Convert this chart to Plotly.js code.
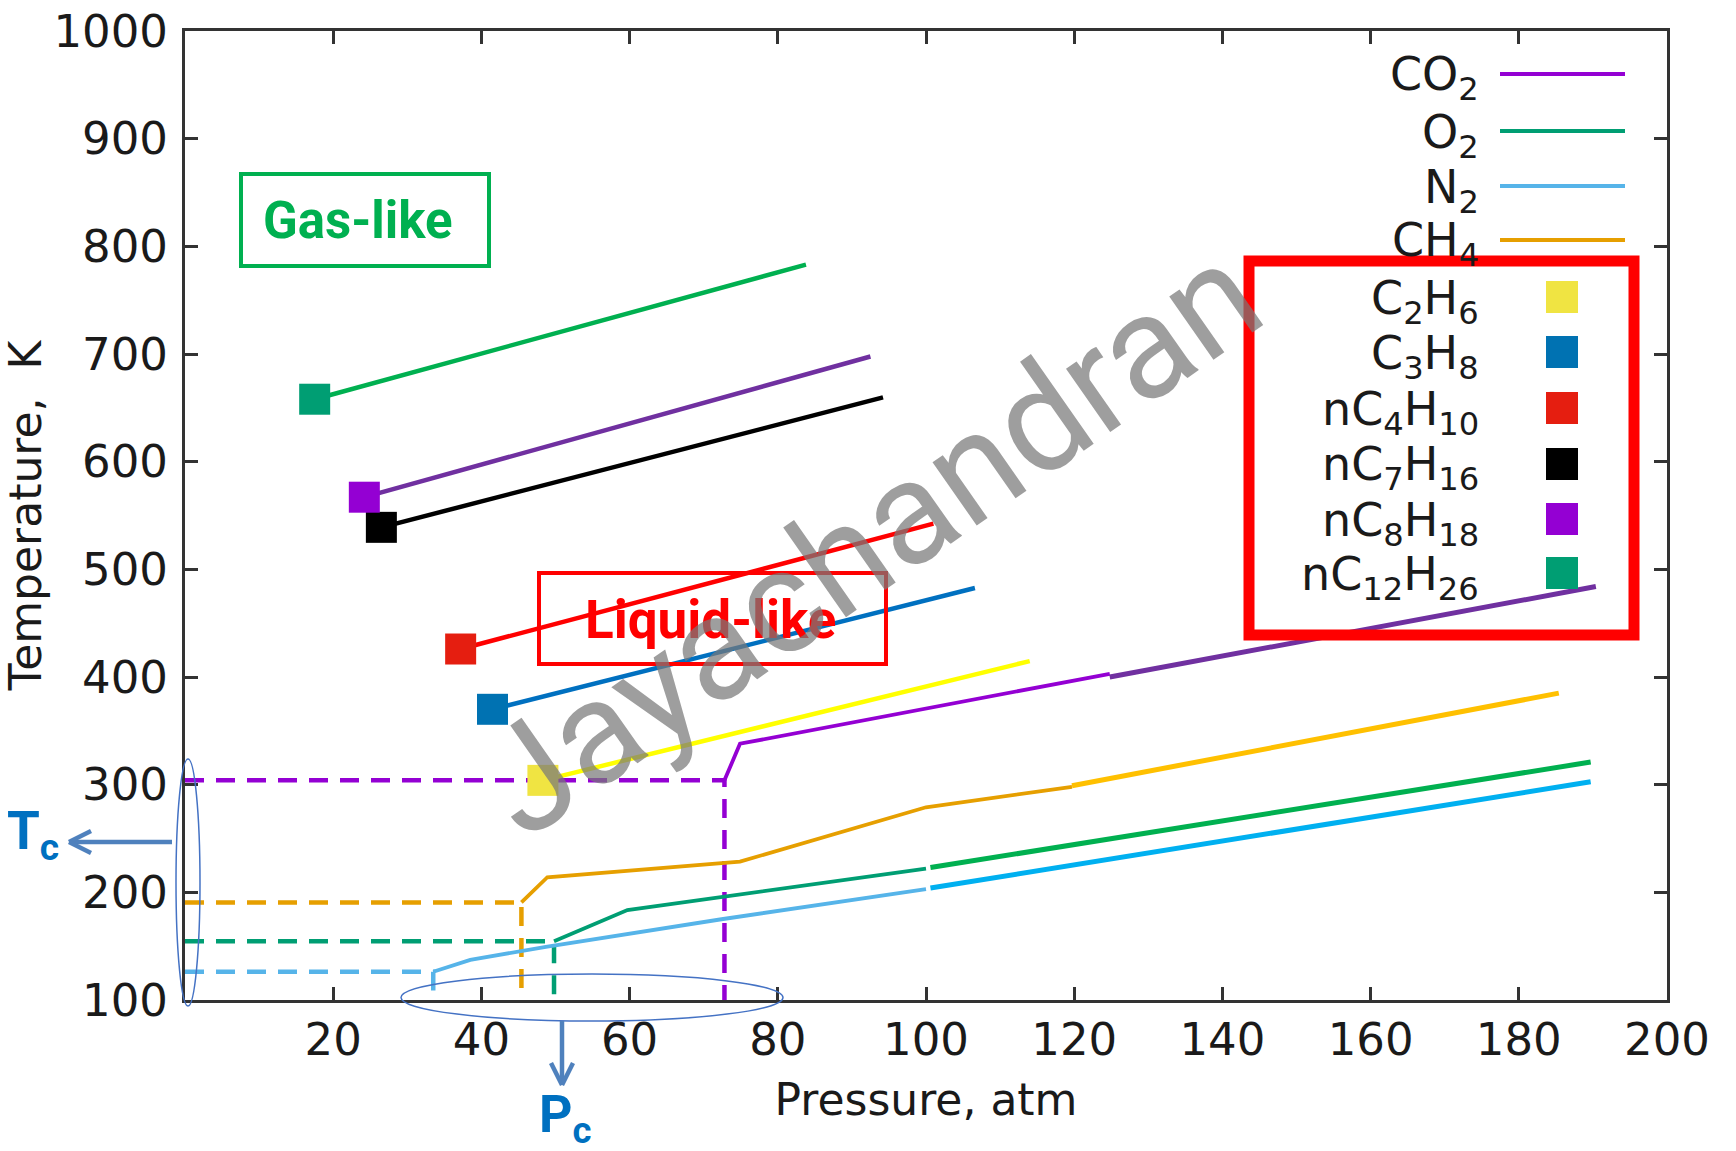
<!DOCTYPE html>
<html>
<head>
<meta charset="utf-8">
<script src="https://cdn.plot.ly/plotly-3.0.1.min.js"></script>
<style>
  html, body { margin: 0; padding: 0; background: #ffffff; }
  #chart { width: 1736px; height: 1151px; }
</style>
</head>
<body>
<div id="chart"></div>
<script>
// ---------------- data ----------------
const xTicks = [20, 40, 60, 80, 100, 120, 140, 160, 180, 200];
const yTicks = [100, 200, 300, 400, 500, 600, 700, 800, 900, 1000];

// critical-point guide lines (dashed): Tc horizontal, then Pc vertical
const co2DashP = [0, 72.8, 72.8];  const co2DashT = [304, 304, 100];
const ch4DashP = [0, 45.4, 45.4];  const ch4DashT = [190.6, 190.6, 100];
const o2DashP  = [0, 49.8, 49.8];  const o2DashT  = [154.6, 154.6, 100];
const n2DashP  = [0, 33.5, 33.5];  const n2DashT  = [126.2, 126.2, 100];

// supercritical curves (legend series)
const co2P = [72.8, 74.9, 124.8];            const co2T = [304, 338, 403];
const o2P  = [49.8, 59.7, 100];              const o2T  = [154.6, 183.5, 222];
const n2P  = [33.5, 38.5, 48.7, 72.4, 100];  const n2T  = [126.2, 137.3, 149.4, 175, 203];
const ch4P = [45.4, 48.9, 74.9, 100, 119.7]; const ch4T = [190.6, 214, 228.5, 279, 298];

// hand-drawn extensions of the gas curves
const co2ExtP = [124.8, 190.4]; const co2ExtT = [400, 484];
const ch4ExtP = [119.7, 185.4]; const ch4ExtT = [299, 385];
const o2ExtP  = [100.6, 189.7]; const o2ExtT  = [223, 321];
const n2ExtP  = [100.6, 189.7]; const n2ExtT  = [204, 302.7];

// hydrocarbon critical points (squares)
const hcNames = ['C<sub>2</sub>H<sub>6</sub>', 'C<sub>3</sub>H<sub>8</sub>', 'nC<sub>4</sub>H<sub>10</sub>',
                 'nC<sub>7</sub>H<sub>16</sub>', 'nC<sub>8</sub>H<sub>18</sub>', 'nC<sub>12</sub>H<sub>26</sub>'];
const hcPc = [48.3, 41.5, 37.2, 26.5, 24.2, 17.5];
const hcTc = [304, 370, 426, 539, 567, 658];
// hand-drawn lines from each critical point
const hcEndP = [114, 106.6, 101, 94.2, 92.5, 83.8];
const hcEndT = [414.8, 482.7, 542.4, 659.7, 697.7, 783];

// ---------------- styles ----------------
const hcMarkerColors = ['#f0e442', '#0072b2', '#e51e10', '#000000', '#9400d3', '#009e73'];
const hcLineColors   = ['#ffff00', '#0070c0', '#ff0000', '#000000', '#7030a0', '#00b050'];
const gasNames  = ['CO<sub>2</sub>', 'O<sub>2</sub>', 'N<sub>2</sub>', 'CH<sub>4</sub>'];
const gasColors = ['#9400d3', '#009e73', '#56b4e9', '#e69f00'];

const traces = [];
function line(x, y, color, width, dash) {
  traces.push({type: 'scatter', mode: 'lines', x: x, y: y, showlegend: false, hoverinfo: 'skip',
               line: {color: color, width: width, dash: dash || 'solid'}});
}
const DASH = '19px,12px';
line(co2DashP, co2DashT, gasColors[0], 4.5, DASH);
line(ch4DashP, ch4DashT, gasColors[3], 4.5, DASH);
line(o2DashP,  o2DashT,  gasColors[1], 4.5, DASH);
line(n2DashP,  n2DashT,  gasColors[2], 4.5, DASH);

line(co2P, co2T, gasColors[0], 3.8);
line(o2P,  o2T,  gasColors[1], 3.8);
line(n2P,  n2T,  gasColors[2], 3.8);
line(ch4P, ch4T, gasColors[3], 3.8);

line(co2ExtP, co2ExtT, '#7030a0', 5);
line(ch4ExtP, ch4ExtT, '#ffc000', 5);
line(o2ExtP,  o2ExtT,  '#00b050', 5);
line(n2ExtP,  n2ExtT,  '#00b0f0', 5);

for (let i = 0; i < hcPc.length; i++) {
  line([hcPc[i], hcEndP[i]], [hcTc[i], hcEndT[i]], hcLineColors[i], 4.5);
}
for (let i = 0; i < hcPc.length; i++) {
  traces.push({type: 'scatter', mode: 'markers', x: [hcPc[i]], y: [hcTc[i]], showlegend: false,
               marker: {symbol: 'square', size: 31, color: hcMarkerColors[i], line: {width: 0}}});
}

// ---------------- geometry helpers (pixels -> paper) ----------------
const L = 185, R = 1667, T = 31, B = 1000;
const px = X => (X - L) / (R - L);
const py = Y => (B - Y) / (B - T);

const shapes = [];
const annotations = [];
const LEGFONT = {family: 'DejaVu Sans', size: 46, color: '#1a1a1a'};

// manual legend (text right-aligned, key to the right)
const gasRows = [74, 131, 186, 240];
for (let i = 0; i < 4; i++) {
  shapes.push({type: 'line', xref: 'paper', yref: 'paper', x0: px(1500), x1: px(1625),
               y0: py(gasRows[i]), y1: py(gasRows[i]), line: {color: gasColors[i], width: 4}});
  annotations.push({xref: 'paper', yref: 'paper', x: px(1481), y: py(gasRows[i] + 4), text: gasNames[i],
                    showarrow: false, xanchor: 'right', yanchor: 'middle', font: LEGFONT});
}
const hcRows = [297, 352, 408, 464, 519, 573];
for (let i = 0; i < 6; i++) {
  shapes.push({type: 'rect', xref: 'paper', yref: 'paper', x0: px(1546), x1: px(1578),
               y0: py(hcRows[i] - 16), y1: py(hcRows[i] + 16), line: {width: 0}, fillcolor: hcMarkerColors[i]});
  annotations.push({xref: 'paper', yref: 'paper', x: px(1481), y: py(hcRows[i] + 4), text: hcNames[i],
                    showarrow: false, xanchor: 'right', yanchor: 'middle', font: LEGFONT});
}
// red highlight box around hydrocarbon legend entries
shapes.push({type: 'rect', xref: 'paper', yref: 'paper', x0: px(1249), x1: px(1634), y0: py(635), y1: py(261),
             line: {color: '#ff0000', width: 11}, fillcolor: 'rgba(0,0,0,0)', layer: 'above'});

// Gas-like / Liquid-like boxes
shapes.push({type: 'rect', xref: 'paper', yref: 'paper', x0: px(241), x1: px(489), y0: py(266), y1: py(174),
             line: {color: '#00b050', width: 4}});
annotations.push({xref: 'paper', yref: 'paper', x: px(358), y: py(220), text: '<b>Gas-like</b>', showarrow: false,
                  xanchor: 'center', yanchor: 'middle', font: {family: 'Roboto', size: 51, color: '#00b050'}});
shapes.push({type: 'rect', xref: 'paper', yref: 'paper', x0: px(539), x1: px(886), y0: py(664), y1: py(573),
             line: {color: '#ff0000', width: 4}});
annotations.push({xref: 'paper', yref: 'paper', x: px(711), y: py(620), text: '<b>Liquid-like</b>', showarrow: false,
                  xanchor: 'center', yanchor: 'middle', font: {family: 'Roboto', size: 53, color: '#ff0000'}});

// Tc / Pc ellipses
shapes.push({type: 'circle', xref: 'paper', yref: 'paper', x0: px(176), x1: px(200), y0: py(1006), y1: py(759),
             line: {color: '#4472c4', width: 1.5}});
shapes.push({type: 'circle', xref: 'paper', yref: 'paper', x0: px(401), x1: px(783), y0: py(1021), y1: py(974),
             line: {color: '#4472c4', width: 1.5}});
// arrows (shaft + open chevron head)
const ARW = {color: '#4f81bd', width: 4.5};
function seg(x0, y0, x1, y1) {
  shapes.push({type: 'line', xref: 'paper', yref: 'paper', x0: px(x0), y0: py(y0), x1: px(x1), y1: py(y1), line: ARW});
}
seg(172, 842, 70, 842); seg(69, 842, 91, 831); seg(69, 842, 91, 853);
seg(562, 1021, 562, 1083); seg(562, 1085, 551, 1063); seg(562, 1085, 573, 1063);

annotations.push({xref: 'paper', yref: 'paper', x: px(33), y: py(834), text: '<b>T<sub>c</sub></b>', showarrow: false,
                  xanchor: 'center', yanchor: 'middle', font: {family: 'Roboto', size: 53, color: '#0070c0'}});
annotations.push({xref: 'paper', yref: 'paper', x: px(565), y: py(1118), text: '<b>P<sub>c</sub></b>', showarrow: false,
                  xanchor: 'center', yanchor: 'middle', font: {family: 'Roboto', size: 52, color: '#0070c0'}});

// watermark
annotations.push({xref: 'paper', yref: 'paper', x: px(869), y: py(540), text: 'Jayachandran', showarrow: false,
                  textangle: -35, xanchor: 'center', yanchor: 'middle',
                  font: {family: 'Roboto', size: 146, color: 'rgba(120,120,120,0.72)'}});

const axisCommon = {
  showgrid: false, zeroline: false, showline: true, linecolor: '#333333', linewidth: 3,
  mirror: 'allticks', ticks: 'inside', ticklen: 13, tickwidth: 3, tickcolor: '#333333',
  tickfont: {family: 'DejaVu Sans', size: 45, color: '#1a1a1a'}
};

const layout = {
  width: 1736, height: 1151,
  margin: {l: L, r: 1736 - R, t: T, b: 1151 - B},
  paper_bgcolor: '#ffffff', plot_bgcolor: '#ffffff',
  showlegend: false,
  xaxis: Object.assign({}, axisCommon, {
    range: [0, 200], tickmode: 'array', tickvals: xTicks, ticktext: xTicks.map(String),
    ticklabelstandoff: -2,
    title: {text: 'Pressure, atm', standoff: 20, font: {family: 'DejaVu Sans', size: 44, color: '#1a1a1a'}}
  }),
  yaxis: Object.assign({}, axisCommon, {
    range: [100, 1000], tickmode: 'array', tickvals: yTicks, ticktext: yTicks.map(String),
    ticklabelstandoff: 5,
    title: {text: 'Temperature,  K', standoff: 8, font: {family: 'DejaVu Sans', size: 44, color: '#1a1a1a'}}
  }),
  shapes: shapes,
  annotations: annotations
};

Plotly.newPlot('chart', traces, layout, {displayModeBar: false, staticPlot: true});
</script>
</body>
</html>
